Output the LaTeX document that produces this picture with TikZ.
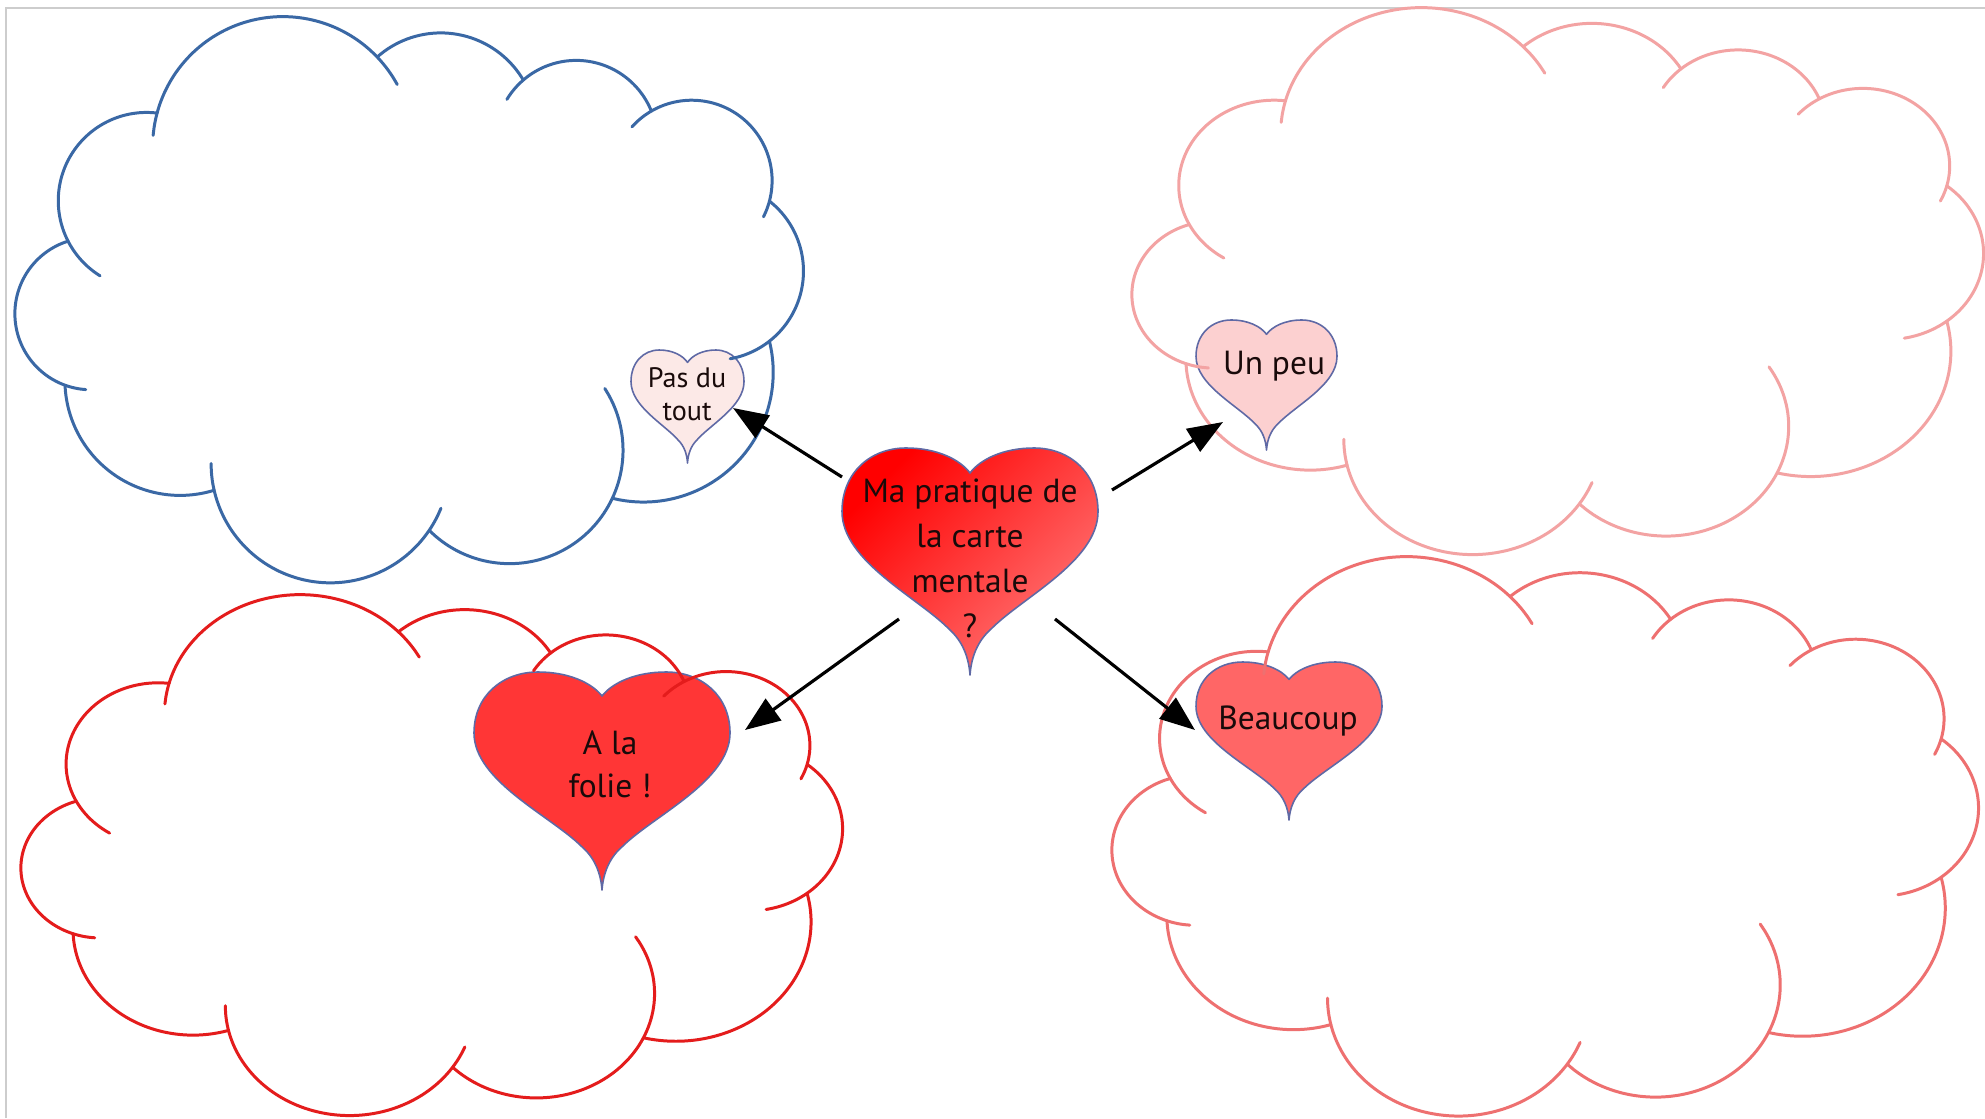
\documentclass[tikz,border=0pt]{standalone}
\usepackage{fontspec}
\setmainfont{PT Sans}
\usetikzlibrary{arrows.meta}
\definecolor{cloudblue}{RGB}{58,104,165}
\definecolor{cloudpink}{RGB}{243,163,163}
\definecolor{cloudred}{RGB}{228,28,28}
\definecolor{cloudsalmon}{RGB}{238,112,112}
\definecolor{heartedge}{RGB}{95,105,165}
\definecolor{hcTop}{RGB}{255,0,0}
\definecolor{hcBot}{RGB}{255,118,118}
\definecolor{hPas}{RGB}{252,233,231}
\definecolor{hUn}{RGB}{252,208,208}
\definecolor{hBeau}{RGB}{255,102,102}
\definecolor{hFolie}{RGB}{255,54,54}
\definecolor{txtc}{RGB}{25,10,10}
\definecolor{framegray}{RGB}{205,205,205}

% circular lump through A, P, B, extended by extA / extB degrees (tucks)
\newcommand\lump[8]{%
  \pgfmathsetmacro\clD{2*((#1)*((#4)-(#6))+(#3)*((#6)-(#2))+(#5)*((#2)-(#4)))}%
  \pgfmathsetmacro\clSa{(#1)*(#1)+(#2)*(#2)}%
  \pgfmathsetmacro\clSp{(#3)*(#3)+(#4)*(#4)}%
  \pgfmathsetmacro\clSb{(#5)*(#5)+(#6)*(#6)}%
  \pgfmathsetmacro\clUx{(\clSa*((#4)-(#6))+\clSp*((#6)-(#2))+\clSb*((#2)-(#4)))/\clD}%
  \pgfmathsetmacro\clUy{(\clSa*((#5)-(#3))+\clSp*((#1)-(#5))+\clSb*((#3)-(#1)))/\clD}%
  \pgfmathsetmacro\clR{veclen((#1)-\clUx,(#2)-\clUy)}%
  \pgfmathsetmacro\clTa{atan2((#2)-\clUy,(#1)-\clUx)}%
  \pgfmathsetmacro\clTp{atan2((#4)-\clUy,(#3)-\clUx)}%
  \pgfmathsetmacro\clTb{atan2((#6)-\clUy,(#5)-\clUx)}%
  \pgfmathsetmacro\clDP{mod(\clTp-\clTa+720,360)}%
  \pgfmathsetmacro\clDB{mod(\clTb-\clTa+720,360)}%
  \pgfmathsetmacro\clSg{ifthenelse(\clDP<\clDB,1,-1)}%
  \pgfmathsetmacro\clSw{ifthenelse(\clDP<\clDB,\clDB,\clDB-360)}%
  \pgfmathsetmacro\clS{\clTa-\clSg*(#7)}%
  \pgfmathsetmacro\clE{\clTa+\clSw+\clSg*(#8)}%
  \pgfmathsetmacro\clLo{min(\clS,\clE)}%
  \pgfmathsetmacro\clHi{max(\clS,\clE)}%
  \draw plot[domain=\clLo:\clHi, samples=40, smooth, variable=\ang]
    ({\clUx+\clR*cos(\ang)},{\clUy+\clR*sin(\ang)});%
}
\newcommand\cloudshape{%
  \lump{0.53}{2.24}{0.63}{1.28}{1.42}{0.96}{31}{0}%
  \lump{1.42}{0.96}{2.78}{0.00}{3.62}{0.40}{10}{15}%
  \lump{3.62}{0.40}{4.30}{0.16}{5.08}{0.63}{0}{0}%
  \lump{5.08}{0.63}{5.71}{0.44}{6.36}{0.94}{18}{0}%
  \lump{6.36}{0.94}{7.28}{1.02}{7.54}{1.84}{18}{12}%
  \lump{7.54}{1.84}{7.88}{2.51}{7.54}{3.24}{0}{28}%
  \lump{7.54}{3.24}{7.07}{4.58}{5.97}{4.81}{0}{0}%
  \lump{5.97}{4.81}{5.03}{5.46}{4.14}{5.13}{58}{0}%
  \lump{4.14}{5.13}{3.04}{5.65}{1.99}{4.73}{12}{13}%
  \lump{1.99}{4.73}{1.00}{4.58}{0.50}{3.68}{0}{0}%
  \lump{0.50}{3.68}{0.00}{3.01}{0.53}{2.24}{16}{0}%
}
% heart: #1 x0, #2 y0 (top-left, px), #3 width, #4 height, #5 style
\newcommand\drawheart[5]{%
  \pgfmathsetmacro\hwid{#3*0.01}%
  \pgfmathsetmacro\hhei{-#4*0.01}%
  \begin{scope}[shift={(#1,#2)}, x=\hwid cm, y=\hhei cm]
    \path[heartline, #5] (0.5,1)
      .. controls (0.495,0.92) and (0.47,0.85) .. (0.42,0.8)
      .. controls (0.3,0.66) and (0,0.5) .. (0,0.28)
      .. controls (0,0.11) and (0.11,0) .. (0.25,0)
      .. controls (0.37,0) and (0.46,0.05) .. (0.5,0.11)
      .. controls (0.54,0.05) and (0.63,0) .. (0.75,0)
      .. controls (0.89,0) and (1,0.11) .. (1,0.28)
      .. controls (1,0.5) and (0.7,0.66) .. (0.58,0.8)
      .. controls (0.53,0.85) and (0.505,0.92) .. (0.5,1) -- cycle;
  \end{scope}}

\tikzset{
  cloudline/.style={line width=0.85pt, line cap=round, line join=round},
  heartline/.style={draw=heartedge, line width=0.45pt, line join=round},
  lbl/.style={text=txtc, align=center, inner sep=0pt},
  connector/.style={line width=0.9pt, -{Triangle[length=10pt,width=7.5pt]}},
}

\begin{document}
\begin{tikzpicture}[x=0.01cm, y=-0.01cm]
\useasboundingbox (0,0) rectangle (1985,1118);
\fill[white] (0,0) rectangle (1985,1118);
% page border
\draw[framegray, line width=0.5pt] (6,1118) -- (6,8) -- (1985,8);

% hearts
\drawheart{842}{448}{256}{227}{top color=hcTop, bottom color=hcBot, shading angle=45}
\drawheart{631}{350}{113}{113}{fill=hPas}
\drawheart{1196}{320}{141}{130}{fill=hUn}
\drawheart{1196}{662}{186}{158}{fill=hBeau}
\drawheart{474}{672}{256}{218}{fill=hFolie}

% clouds
\begin{scope}[shift={(15,17)}, x=1cm, y=-1cm, color=cloudblue, cloudline]
  \cloudshape
\end{scope}
\begin{scope}[shift={(1132,8)}, x=1.080cm, y=-0.966cm, color=cloudpink, cloudline]
  \cloudshape
\end{scope}
\begin{scope}[shift={(21,595)}, x=1.042cm, y=-0.920cm, color=cloudred, cloudline]
  \cloudshape
\end{scope}
\begin{scope}[shift={(1112,557)}, x=1.099cm, y=-0.988cm, color=cloudsalmon, cloudline]
  \cloudshape
\end{scope}

% labels
\node[lbl, font=\fontsize{9.5}{12.8}\selectfont] (central) at (970,558)
  {Ma pratique de\\la carte\\mentale\\?};
\node[lbl, font=\fontsize{8}{9.4}\selectfont] (pasdutout) at (687,394) {Pas du\\tout};
\node[lbl, font=\fontsize{9.5}{12}\selectfont] (unpeu) at (1274,366) {Un peu};
\node[lbl, font=\fontsize{9.5}{12}\selectfont] (beaucoup) at (1288,721) {Beaucoup};
\node[lbl, font=\fontsize{9.5}{12.2}\selectfont] (alafolie) at (610,764) {A la\\folie !};

% connector end points
\coordinate (c-nw) at (842,477);
\coordinate (c-ne) at (1112,490);
\coordinate (c-sw) at (899,619);
\coordinate (c-se) at (1055,619);
\coordinate (pdt-in) at (733,408);
\coordinate (up-in) at (1223,422);
\coordinate (alf-in) at (745,730);
\coordinate (bc-in) at (1195,730);

\draw[connector] (c-nw) -- (pdt-in);
\draw[connector] (c-ne) -- (up-in);
\draw[connector] (c-sw) -- (alf-in);
\draw[connector] (c-se) -- (bc-in);
\end{tikzpicture}
\end{document}
